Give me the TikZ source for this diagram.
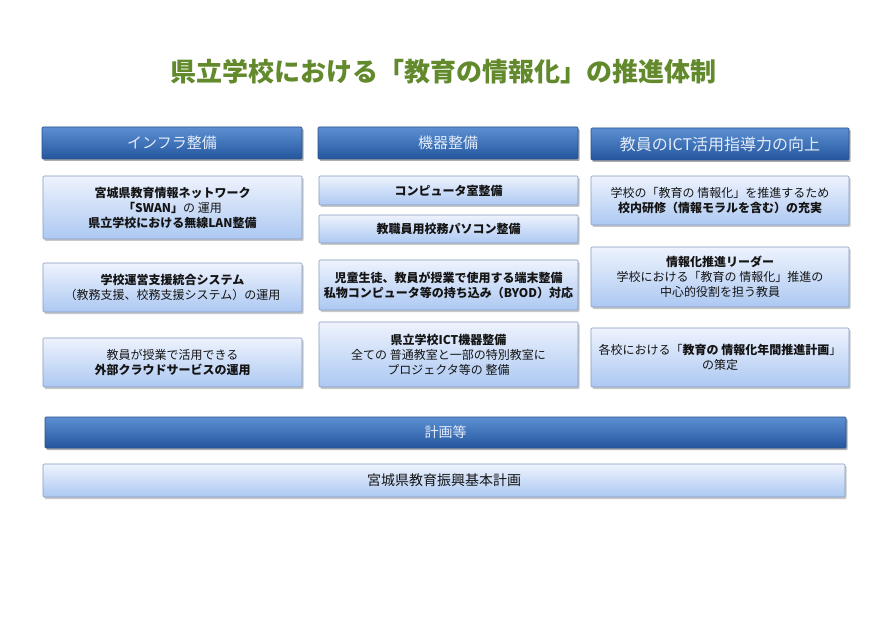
\documentclass[tikz,border=0pt]{standalone}
\usepackage{fontspec}
\setmainfont{Noto Sans CJK JP}
\usetikzlibrary{shadows}
\definecolor{titlegreen}{RGB}{98,138,45}
\definecolor{hdtop}{RGB}{92,144,210}
\definecolor{hdbot}{RGB}{36,86,158}
\definecolor{hdline}{RGB}{40,80,140}
\definecolor{hdtext}{RGB}{228,236,248}
\definecolor{bxtop}{RGB}{238,243,253}
\definecolor{bxbot}{RGB}{172,200,242}
\definecolor{bxline}{RGB}{135,155,190}
\definecolor{txt}{RGB}{20,20,20}
\tikzset{
  hdbox/.style={draw=hdline, line width=0.6pt, shading=axis, top color=hdtop, bottom color=hdbot,
    rounded corners=1pt, inner sep=0pt, text=hdtext, font=\fontsize{15}{18}\selectfont,
    drop shadow={shadow xshift=1.5pt, shadow yshift=-2pt, opacity=0.45, fill=black!70}},
  cbox/.style={draw=bxline, line width=0.6pt, shading=axis, top color=bxtop, bottom color=bxbot,
    rounded corners=1pt, inner sep=0pt, align=center, text=txt, font=\fontsize{12}{15}\selectfont,
    drop shadow={shadow xshift=1.5pt, shadow yshift=-2pt, opacity=0.35, fill=black!60}},
}
\begin{document}
\begin{tikzpicture}[x=1pt,y=-1pt]
\fill[white] (0,0) rectangle (890,617);
\useasboundingbox (0,0) rectangle (890,617);
% title
\node[text=titlegreen, font=\bfseries\fontsize{26}{30}\selectfont] (title) at (443,72) {県立学校における「教育の情報化」の推進体制};
% headers
\node[hdbox, minimum width=260pt, minimum height=32pt] (h1) at (172,143) {インフラ整備};
\node[hdbox, minimum width=260pt, minimum height=32pt] (h2) at (448,143) {機器整備};
\node[hdbox, minimum width=258pt, minimum height=32pt, font=\fontsize{16}{19}\selectfont] (h3) at (720,144) {教員のICT活用指導力の向上};
% column 1
\node[cbox, minimum width=259pt, minimum height=63pt] (c1a) at (172.5,207.5)
  {\textbf{宮城県教育情報ネットワーク}\\\textbf{「SWAN」}の 運用\\\textbf{県立学校における無線LAN整備}};
\node[cbox, minimum width=259pt, minimum height=49pt] (c1b) at (172.5,287.5)
  {\textbf{学校運営支援統合システム}\\（教務支援、校務支援システム）の運用};
\node[cbox, minimum width=259pt, minimum height=49pt] (c1c) at (172.5,362.5)
  {教員が授業で活用できる\\\textbf{外部クラウドサービスの運用}};
% column 2
\node[cbox, minimum width=259pt, minimum height=29pt] (c2a) at (448.5,190.5)
  {\textbf{コンピュータ室整備}};
\node[cbox, minimum width=259pt, minimum height=28pt] (c2b) at (448.5,229)
  {\textbf{教職員用校務パソコン整備}};
\node[cbox, minimum width=259pt, minimum height=50pt] (c2c) at (448.5,285)
  {\textbf{児童生徒、教員が授業で使用する端末整備}\\\textbf{私物コンピュータ等の持ち込み（BYOD）対応}};
\node[cbox, minimum width=259pt, minimum height=65pt] (c2d) at (448.5,354.5)
  {\textbf{県立学校ICT機器整備}\\全ての 普通教室と一部の特別教室に\\プロジェクタ等の 整備};
% column 3
\node[cbox, minimum width=258pt, minimum height=49pt] (c3a) at (720,200.5)
  {学校の「教育の 情報化」を推進するため\\\textbf{校内研修（情報モラルを含む）の充実}};
\node[cbox, minimum width=258pt, minimum height=60pt] (c3b) at (720,277)
  {\textbf{情報化推進リーダー}\\学校における「教育の 情報化」推進の\\中心的役割を担う教員};
\node[cbox, minimum width=258pt, minimum height=59pt] (c3c) at (720,357.5)
  {各校における「\textbf{教育の 情報化年間推進計画}」\\の策定};
% bottom
\node[hdbox, minimum width=801pt, minimum height=31pt, font=\fontsize{14}{17}\selectfont] (h4) at (445.5,432.5) {計画等};
\node[cbox, minimum width=802pt, minimum height=33pt, font=\fontsize{14}{17}\selectfont] (b1) at (444,480.5) {宮城県教育振興基本計画};
\end{tikzpicture}
\end{document}
